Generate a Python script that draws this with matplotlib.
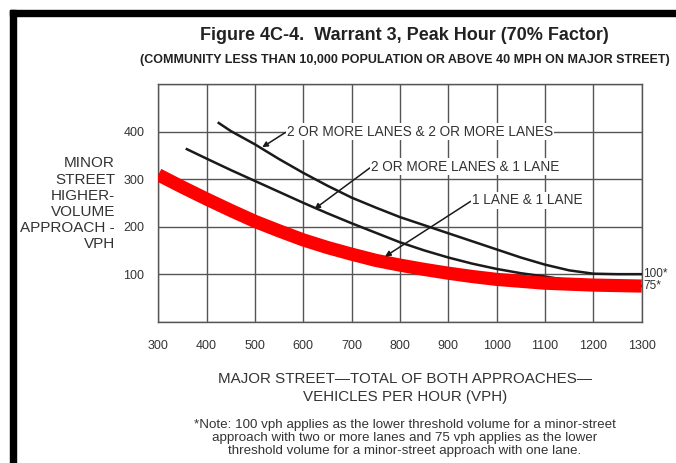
import matplotlib.pyplot as plt
from matplotlib.patches import Rectangle

plt.rcParams['font.family'] = ['Liberation Sans', 'DejaVu Sans']

# values (major street vph -> minor street vph)
x_2and2 = [425, 450, 500, 550, 600, 650, 700, 750, 800, 850, 900, 950, 1000, 1050, 1100, 1150, 1200, 1250, 1300]
y_2and2 = [418, 401, 373, 342, 313, 286, 261, 240, 220, 203, 186, 169, 152, 135, 120, 108, 101, 100, 100]

x_2and1 = [359, 400, 450, 500, 550, 600, 650, 700, 750, 800, 850, 900, 950, 1000, 1050, 1100, 1150, 1200, 1250, 1300]
y_2and1 = [363, 343, 319, 296, 273, 250, 228, 207, 187, 167, 150, 135, 122, 111, 102, 95, 87, 80, 77, 75]

x_1and1 = [300, 350, 400, 450, 500, 550, 600, 650, 700, 750, 800, 850, 900, 950, 1000, 1050, 1100, 1150, 1200, 1250, 1300]
y_1and1 = [309, 283, 258, 234, 211, 191, 172, 156, 142, 129, 119, 110, 102, 95, 89, 85, 81, 79, 77, 76, 75]

xticks = [300, 400, 500, 600, 700, 800, 900, 1000, 1100, 1200, 1300]
yticks = [0, 100, 200, 300, 400, 500]
ytick_labels = ['', '100', '200', '300', '400', '']

txt = '#333333'
grid_c = '#555555'

fig = plt.figure(figsize=(6.76, 4.63), dpi=100)
W, H = 676, 463
ax = fig.add_axes([158.3 / W, 1 - 321.7 / H, (641.7 - 158.3) / W, (321.7 - 84) / H])

ax.set_xlim(300, 1300)
ax.set_ylim(0, 500)
ax.set_xticks(xticks)
ax.set_yticks(yticks)
ax.set_yticklabels(ytick_labels)
ax.tick_params(length=0, labelsize=9, labelcolor=txt)
ax.tick_params(axis='x', pad=13)
ax.tick_params(axis='y', pad=10)
ax.grid(True, color=grid_c, linewidth=1.0)
for s in ax.spines.values():
    s.set_color(grid_c)
    s.set_linewidth(1.0)

ax.plot(x_2and2, y_2and2, color='#1a1a1a', lw=1.8, zorder=3)
ax.plot(x_2and1, y_2and1, color='#1a1a1a', lw=1.8, zorder=3)
ax.plot(x_1and1, y_1and1, color='#ff0000', lw=9.5, solid_capstyle='butt', zorder=4)

box = dict(facecolor='white', edgecolor='none', pad=1)
arr = dict(arrowstyle='-|>', color='#1a1a1a', lw=1.1, mutation_scale=8,
           shrinkA=0, shrinkB=0, relpos=(0, 0.5))
ax.annotate('2 OR MORE LANES & 2 OR MORE LANES', xy=(515, 367), xytext=(566, 400),
            fontsize=9.8, color=txt, va='center', ha='left', bbox=box, arrowprops=arr, zorder=5)
ax.annotate('2 OR MORE LANES & 1 LANE', xy=(623, 237), xytext=(741, 326),
            fontsize=9.8, color=txt, va='center', ha='left', bbox=box, arrowprops=arr, zorder=5)
ax.annotate('1 LANE & 1 LANE', xy=(769, 137), xytext=(949, 255),
            fontsize=9.8, color=txt, va='center', ha='left', bbox=box, arrowprops=arr, zorder=5)

ax.text(1303, 100, '100*', fontsize=8.5, color=txt, va='center', ha='left', clip_on=False)
ax.text(1303, 75, '75*', fontsize=8.5, color=txt, va='center', ha='left', clip_on=False)

fig.text(404 / W, 1 - 36 / H, 'Figure 4C-4.  Warrant 3, Peak Hour (70% Factor)',
         fontsize=13, fontweight='bold', color='#222222', ha='center', va='center')
fig.text(405 / W, 1 - 60 / H,
         '(COMMUNITY LESS THAN 10,000 POPULATION OR ABOVE 40 MPH ON MAJOR STREET)',
         fontsize=9, fontweight='bold', color='#222222', ha='center', va='center')

fig.text(115 / W, 1 - 204 / H, 'MINOR\nSTREET\nHIGHER-\nVOLUME\nAPPROACH -\nVPH',
         fontsize=11, color=txt, ha='right', va='center', multialignment='right', linespacing=1.2)

fig.text(405 / W, 1 - 388 / H, 'MAJOR STREET\u2014TOTAL OF BOTH APPROACHES\u2014\nVEHICLES PER HOUR (VPH)',
         fontsize=10.9, color=txt, ha='center', va='center', linespacing=1.3)

fig.text(405 / W, 1 - 438 / H,
         '*Note: 100 vph applies as the lower threshold volume for a minor-street\n'
         'approach with two or more lanes and 75 vph applies as the lower\n'
         'threshold volume for a minor-street approach with one lane.',
         fontsize=9.6, color=txt, ha='center', va='center', linespacing=1.12)

# black frame along top and left edges
fig.add_artist(Rectangle((10 / W, 0), 6 / W, 1 - 10 / H, transform=fig.transFigure,
                         color='black', zorder=10))
fig.add_artist(Rectangle((10 / W, 1 - 16 / H), 1 - 10 / W, 6 / H, transform=fig.transFigure,
                         color='black', zorder=10))

fig.savefig('out.png', dpi=100)
